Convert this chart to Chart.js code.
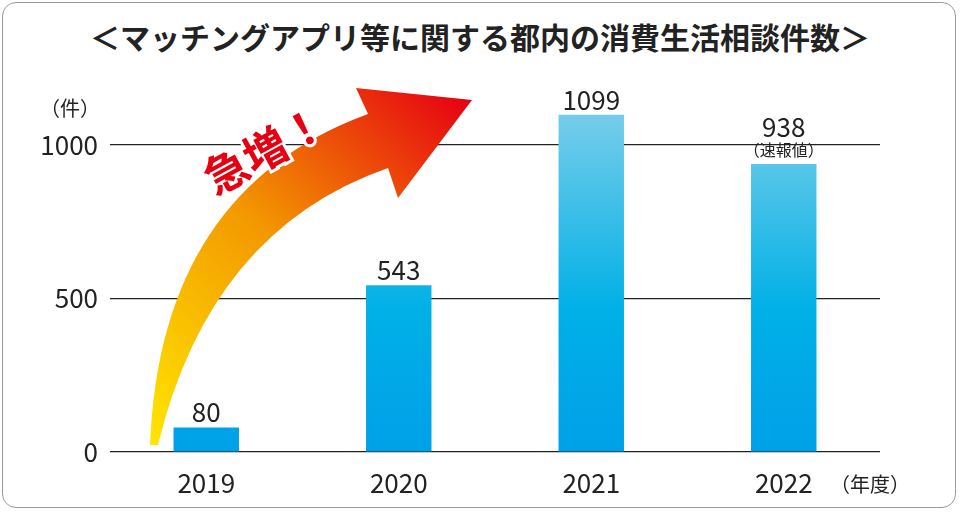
<!DOCTYPE html>
<html><head><meta charset="utf-8">
<script src="https://cdn.jsdelivr.net/npm/chart.js@4/dist/chart.umd.min.js"></script>
<style>
html,body{margin:0;padding:0;background:#fff;}
#wrap{position:absolute;left:2px;top:2px;width:954px;height:506px;border:1.5px solid #999;border-radius:14px;box-sizing:border-box;}
#title{position:absolute;left:0;top:14px;width:960px;text-align:center;font:bold 30px "Noto Sans CJK JP";color:#222;}
#c{position:absolute;left:0;top:0;}
</style></head><body>
<div id="wrap"></div>
<div id="title">＜マッチングアプリ等に関する都内の消費生活相談件数＞</div>
<canvas id="c" width="960" height="512"></canvas>
<script>
const categories=['2019','2020','2021','2022'];
const values=[80,543,1099,938];
const valueLabels=['80','543','1099','938'];
const yTicks=[0,500,1000];
const F='"Noto Sans CJK JP","Noto Sans",sans-serif';
const deco={id:'deco',
beforeDatasetsDraw(ch){const c=ch.ctx;c.save();
 const g=c.createLinearGradient(150,445,470,100);
 g.addColorStop(0,'#ffe600');g.addColorStop(0.5,'#f39800');g.addColorStop(1,'#e60012');
 c.beginPath();c.moveTo(150,445);c.quadraticCurveTo(160,190,368,114);c.lineTo(356,88);c.lineTo(472,100);c.lineTo(398,198);c.lineTo(388,168);c.quadraticCurveTo(210,230,158,445);c.closePath();
 c.fillStyle=g;c.fill();
 c.translate(265,150);c.rotate(-0.5);c.font='bold 44px '+F;c.textAlign='center';c.textBaseline='middle';
 c.lineWidth=6;c.strokeStyle='#fff';c.strokeText('急増！',0,0);c.fillStyle='#e60012';c.fillText('急増！',0,0);
 c.restore();},
afterDatasetsDraw(ch){const c=ch.ctx;c.save();const m=ch.getDatasetMeta(0);
 c.fillStyle='#222';c.textAlign='center';c.textBaseline='bottom';
 m.data.forEach((b,i)=>{c.font='26px '+F;let y=b.y-2;if(i==3){c.font='16px '+F;c.fillText('（速報値）',b.x,b.y-6);y=b.y-24;c.font='26px '+F;}
  c.fillText(valueLabels[i],b.x,y);});
 c.font='20px '+F;c.textAlign='left';c.fillText('（件）',40,118);
 c.textBaseline='middle';c.fillText('（年度）',830,484);
 c.restore();}};
new Chart(document.getElementById('c'),{type:'bar',
data:{labels:categories,datasets:[{data:values,barPercentage:0.34,categoryPercentage:1,
 backgroundColor:(ctx)=>{const a=ctx.chart.chartArea;if(!a)return '#00a0e8';const g=ctx.chart.ctx.createLinearGradient(0,a.top,0,a.bottom);g.addColorStop(0,'#7fcfea');g.addColorStop(0.6,'#00b0e6');g.addColorStop(1,'#00a0e8');return g;}}]},
options:{responsive:false,animation:false,devicePixelRatio:1,
 layout:{padding:{left:0,right:80,top:99,bottom:0}},
 plugins:{legend:{display:false},tooltip:{enabled:false}},
 scales:{
  x:{afterFit:(s)=>{s.height=60;},grid:{display:false},border:{display:false},ticks:{color:'#222',font:{size:26,family:F},padding:8}},
  y:{min:0,max:1150,afterFit:(s)=>{s.width=110;},afterBuildTicks:(s)=>{s.ticks=yTicks.map(v=>({value:v}));},
   grid:{color:'#222',lineWidth:1.2,drawTicks:false},border:{display:false},
   ticks:{color:'#222',font:{size:26,family:F},padding:12,callback:(v)=>String(v)}}}},
 plugins:[deco]});
</script>
</body></html>
